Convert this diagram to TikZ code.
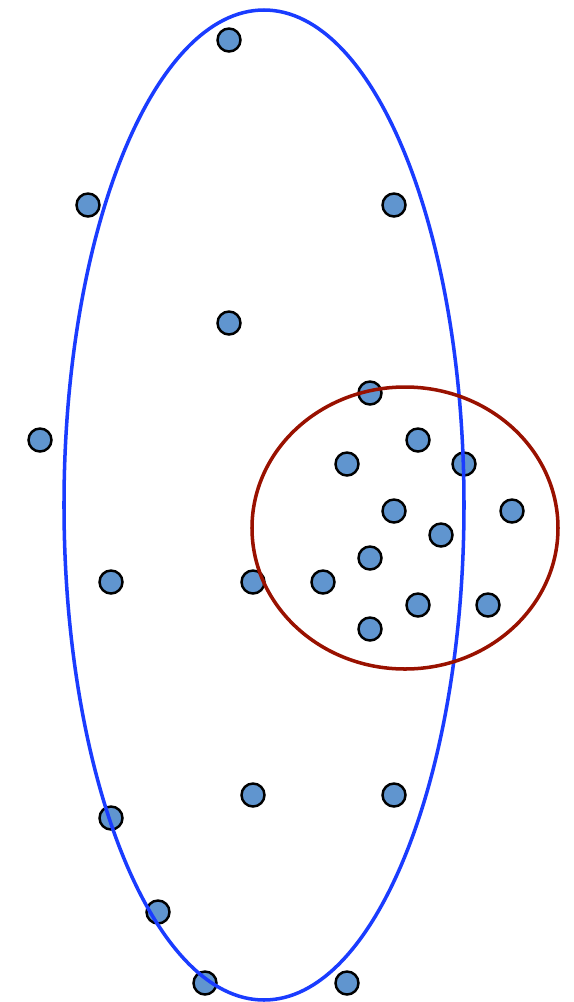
\documentclass[tikz,border=0pt]{standalone}
\usepackage{tikz}
\definecolor{dotblue}{HTML}{6095CF}
\definecolor{setblue}{HTML}{1A3CFF}
\definecolor{setred}{HTML}{991100}

\begin{document}
\begin{tikzpicture}[
    x=0.02cm, y=-0.02cm,
    pt/.style  = {circle, draw=black, fill=dotblue, line width=1.4pt,
                  minimum size=0.46cm, inner sep=0pt},
    bigset/.style = {draw=setblue, line width=2pt},
    smallset/.style = {draw=setred, line width=2pt}
]
\useasboundingbox (0,0) rectangle (574,1002);

% points
\foreach \x/\y [count=\i] in {229/40, 88/205, 394/205, 229/323, 370/393,
    40/440, 418/440, 347/464, 464/464, 394/511, 512/511, 441/535,
    370/558, 111/582, 253/582, 323/582, 418/605, 488/605, 370/629,
    253/795, 394/795, 111/818, 158/912, 205/983, 347/983}
  \node[pt] (p\i) at (\x,\y) {};

% sets
\draw[bigset]   (264,505) ellipse [x radius=200, y radius=495];
\draw[smallset] (405,528) ellipse [x radius=153, y radius=141];

\end{tikzpicture}
\end{document}
